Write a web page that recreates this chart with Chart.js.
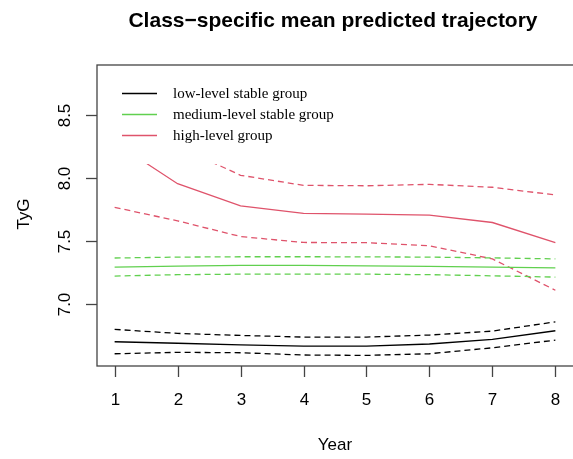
<!DOCTYPE html>
<html>
<head>
<meta charset="utf-8">
<script src="https://cdn.jsdelivr.net/npm/chart.js@4/dist/chart.umd.min.js"></script>
<style>
  html, body { margin: 0; padding: 0; background: #fff; }
  #wrap { width: 573px; height: 459px; }
</style>
</head>
<body>
<div id="wrap"><canvas id="c"></canvas></div>
<script>
// values
var years = [1, 2, 3, 4, 5, 6, 7, 8];
var lowMean = [6.702, 6.690, 6.678, 6.668, 6.668, 6.684, 6.720, 6.789];
var lowUpper = [6.800, 6.768, 6.752, 6.739, 6.739, 6.755, 6.786, 6.860];
var lowLower = [6.607, 6.618, 6.615, 6.597, 6.594, 6.607, 6.654, 6.715];
var midMean = [7.293, 7.300, 7.306, 7.306, 7.303, 7.298, 7.293, 7.287];
var midUpper = [7.365, 7.372, 7.375, 7.375, 7.374, 7.372, 7.366, 7.358];
var midLower = [7.222, 7.233, 7.237, 7.237, 7.237, 7.233, 7.224, 7.214];
var highMean = [8.28, 7.953, 7.778, 7.718, 7.712, 7.704, 7.646, 7.486];
var highUpper = [8.79, 8.25, 8.02, 7.94, 7.937, 7.948, 7.925, 7.864];
var highLower = [7.766, 7.659, 7.535, 7.488, 7.486, 7.462, 7.358, 7.11];

var xTicks = [1, 2, 3, 4, 5, 6, 7, 8];
var yTicks = [7.0, 7.5, 8.0, 8.5];
var groupNames = ['low-level stable group', 'medium-level stable group', 'high-level group'];
var groupColors = ['#000000', '#61D04F', '#DF536B'];

var titleText = 'Class\u2212specific mean predicted trajectory';

function pts(arr) {
  return arr.map((v, i) => ({ x: years[i], y: v }));
}

function line(data, color, dashed) {
  return {
    data: pts(data),
    borderColor: color,
    borderWidth: 1.3,
    borderDash: dashed ? [6, 4] : [],
    pointRadius: 0,
    fill: false,
    tension: 0
  };
}

var datasets = [
  line(lowMean, groupColors[0], false),
  line(lowUpper, groupColors[0], true),
  line(lowLower, groupColors[0], true),
  line(midMean, groupColors[1], false),
  line(midUpper, groupColors[1], true),
  line(midLower, groupColors[1], true),
  line(highMean, groupColors[2], false),
  line(highUpper, groupColors[2], true),
  line(highLower, groupColors[2], true)
];

// R-style box, ticks, labels, title and legend
var rDecor = {
  id: 'rDecor',
  afterDraw(chart) {
    var ctx = chart.ctx;
    var a = chart.chartArea;
    var xs = chart.scales.x, ys = chart.scales.y;
    ctx.save();
    ctx.strokeStyle = '#444';
    ctx.lineWidth = 1.3;
    ctx.strokeRect(a.left, a.top, a.right - a.left + 2, a.bottom - a.top);

    ctx.fillStyle = '#000';
    ctx.font = '17px "Liberation Sans", Arial, sans-serif';
    ctx.textAlign = 'center';
    ctx.textBaseline = 'middle';
    xTicks.forEach(t => {
      var px = Math.round(xs.getPixelForValue(t)) + 0.5;
      ctx.beginPath();
      ctx.moveTo(px, a.bottom);
      ctx.lineTo(px, a.bottom + 11);
      ctx.stroke();
      ctx.fillText(String(t), px, 400);
    });
    yTicks.forEach(t => {
      var py = Math.round(ys.getPixelForValue(t)) + 0.5;
      ctx.beginPath();
      ctx.moveTo(a.left, py);
      ctx.lineTo(a.left - 11, py);
      ctx.stroke();
      ctx.save();
      ctx.translate(65, py);
      ctx.rotate(-Math.PI / 2);
      ctx.fillText(t.toFixed(1), 0, 0);
      ctx.restore();
    });

    ctx.fillText('Year', 335, 445);
    ctx.save();
    ctx.translate(24, 214);
    ctx.rotate(-Math.PI / 2);
    ctx.fillText('TyG', 0, 0);
    ctx.restore();

    ctx.font = 'bold 21px "Liberation Sans", Arial, sans-serif';
    ctx.fillText(titleText, 333, 21);

    // legend with white background over the lines
    ctx.fillStyle = '#fff';
    ctx.fillRect(a.left + 1, a.top + 1, 250, 164 - a.top - 1);
    ctx.font = '15px "Liberation Serif", "Times New Roman", serif';
    ctx.textAlign = 'left';
    groupNames.forEach((name, i) => {
      var y = 93.5 + i * 21;
      ctx.strokeStyle = groupColors[i];
      ctx.beginPath();
      ctx.moveTo(122, y);
      ctx.lineTo(157, y);
      ctx.stroke();
      ctx.fillStyle = '#000';
      ctx.fillText(name, 173, y + 1);
    });
    ctx.restore();
  }
};

new Chart(document.getElementById('c'), {
  type: 'line',
  data: { datasets: datasets },
  options: {
    responsive: true,
    maintainAspectRatio: false,
    animation: false,
    layout: { padding: { left: 97, top: 65, right: 0, bottom: 93 } },
    plugins: { legend: { display: false }, tooltip: { enabled: false } },
    scales: {
      x: { type: 'linear', min: 0.72, max: 8.28, display: false },
      y: { type: 'linear', min: 6.51, max: 8.893, display: false }
    }
  },
  plugins: [rDecor]
});
</script>
</body>
</html>
